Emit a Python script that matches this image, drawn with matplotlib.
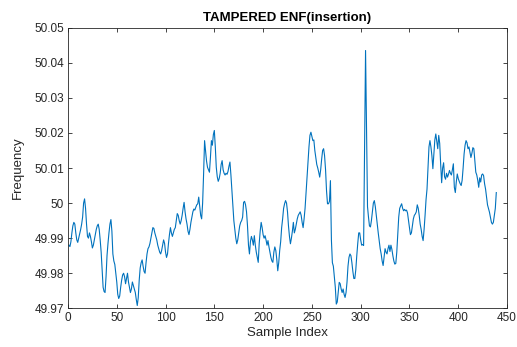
import numpy as np
import matplotlib
matplotlib.use("Agg")
import matplotlib.pyplot as plt

# frequency readings, one per sample (sample index starts at 1)
freq = [
    49.9880, 49.9876, 49.9890, 49.9915, 49.9935, 49.9945, 49.9940, 49.9915, 49.9895, 49.9888,
    49.9900, 49.9912, 49.9925, 49.9940, 49.9960, 50.0000, 50.0012, 49.9985, 49.9940, 49.9905,
    49.9900, 49.9915, 49.9905, 49.9890, 49.9872, 49.9880, 49.9895, 49.9910, 49.9925, 49.9935,
    49.9940, 49.9925, 49.9895, 49.9860, 49.9810, 49.9760, 49.9748, 49.9745, 49.9790, 49.9850,
    49.9885, 49.9915, 49.9940, 49.9953, 49.9920, 49.9855, 49.9835, 49.9825, 49.9800, 49.9775,
    49.9740, 49.9728, 49.9735, 49.9760, 49.9780, 49.9795, 49.9800, 49.9790, 49.9770, 49.9785,
    49.9800, 49.9775, 49.9760, 49.9745, 49.9755, 49.9775, 49.9765, 49.9755, 49.9745, 49.9725,
    49.9708, 49.9730, 49.9780, 49.9815, 49.9830, 49.9838, 49.9820, 49.9805, 49.9800, 49.9830,
    49.9855, 49.9870, 49.9875, 49.9885, 49.9900, 49.9915, 49.9930, 49.9928, 49.9915, 49.9905,
    49.9895, 49.9880, 49.9870, 49.9860, 49.9855, 49.9865, 49.9880, 49.9895, 49.9885, 49.9860,
    49.9845, 49.9855, 49.9885, 49.9910, 49.9930, 49.9915, 49.9905, 49.9915, 49.9925, 49.9930,
    49.9950, 49.9970, 49.9965, 49.9950, 49.9940, 49.9950, 49.9965, 49.9985, 50.0002, 49.9975,
    49.9955, 49.9940, 49.9920, 49.9910, 49.9925, 49.9945, 49.9960, 49.9975, 49.9983, 49.9980,
    49.9988, 49.9995, 49.9998, 50.0017, 49.9990, 49.9965, 49.9955, 50.0000, 50.0083, 50.0178,
    50.0150, 50.0120, 50.0102, 50.0095, 50.0088, 50.0130, 50.0178, 50.0165, 50.0195, 50.0207,
    50.0160, 50.0102, 50.0075, 50.0062, 50.0070, 50.0085, 50.0110, 50.0121, 50.0095, 50.0085,
    50.0080, 50.0085, 50.0082, 50.0090, 50.0105, 50.0117, 50.0080, 50.0036, 49.9990, 49.9950,
    49.9925, 49.9900, 49.9884, 49.9895, 49.9915, 49.9935, 49.9945, 49.9950, 49.9960, 50.0002,
    50.0005, 49.9995, 49.9975, 49.9935, 49.9880, 49.9855, 49.9890, 49.9905, 49.9895, 49.9880,
    49.9907, 49.9880, 49.9860, 49.9845, 49.9831, 49.9885, 49.9920, 49.9945, 49.9930, 49.9910,
    49.9900, 49.9907, 49.9895, 49.9880, 49.9893, 49.9875, 49.9860, 49.9845, 49.9835, 49.9831,
    49.9860, 49.9875, 49.9865, 49.9840, 49.9807, 49.9830, 49.9865, 49.9890, 49.9930, 49.9955,
    49.9985, 49.9998, 50.0007, 50.0000, 49.9975, 49.9935, 49.9905, 49.9884, 49.9900, 49.9920,
    49.9945, 49.9915, 49.9925, 49.9940, 49.9955, 49.9965, 49.9970, 49.9975, 49.9965, 49.9945,
    49.9930, 49.9955, 49.9985, 50.0030, 50.0074, 50.0120, 50.0160, 50.0193, 50.0202, 50.0190,
    50.0178, 50.0180, 50.0150, 50.0130, 50.0110, 50.0100, 50.0088, 50.0074, 50.0095, 50.0125,
    50.0150, 50.0155, 50.0135, 50.0095, 50.0035, 49.9998, 49.9998, 50.0005, 50.0064, 49.9895,
    49.9830, 49.9820, 49.9790, 49.9760, 49.9712, 49.9718, 49.9745, 49.9774, 49.9770, 49.9755,
    49.9745, 49.9755, 49.9740, 49.9731, 49.9745, 49.9775, 49.9820, 49.9845, 49.9855, 49.9850,
    49.9830, 49.9805, 49.9785, 49.9785, 49.9810, 49.9850, 49.9885, 49.9915, 49.9915, 49.9895,
    49.9880, 49.9882, 49.9879, 50.0158, 50.0435, 50.0216, 49.9990, 49.9960, 49.9935, 49.9932,
    49.9950, 49.9975, 50.0000, 50.0007, 49.9990, 49.9965, 49.9940, 49.9915, 49.9893, 49.9870,
    49.9855, 49.9835, 49.9822, 49.9845, 49.9870, 49.9860, 49.9855, 49.9870, 49.9880, 49.9862,
    49.9880, 49.9868, 49.9850, 49.9835, 49.9826, 49.9828, 49.9860, 49.9910, 49.9960, 49.9985,
    49.9992, 49.9998, 49.9985, 49.9978, 49.9982, 49.9978, 49.9980, 49.9972, 49.9950, 49.9930,
    49.9910, 49.9915, 49.9935, 49.9955, 49.9965, 49.9969, 49.9975, 49.9995, 49.9985, 49.9965,
    49.9940, 49.9925, 49.9905, 49.9893, 49.9925, 49.9965, 50.0010, 50.0040, 50.0100, 50.0160,
    50.0178, 50.0160, 50.0135, 50.0098, 50.0140, 50.0180, 50.0197, 50.0175, 50.0155, 50.0193,
    50.0170, 50.0110, 50.0058, 50.0100, 50.0115, 50.0075, 50.0068, 50.0085, 50.0074, 50.0082,
    50.0093, 50.0085, 50.0080, 50.0095, 50.0112, 50.0045, 50.0030, 50.0060, 50.0083, 50.0070,
    50.0062, 50.0055, 50.0050, 50.0065, 50.0100, 50.0140, 50.0165, 50.0178, 50.0172, 50.0155,
    50.0160, 50.0145, 50.0130, 50.0142, 50.0158, 50.0155, 50.0120, 50.0088, 50.0080, 50.0065,
    50.0045, 50.0072, 50.0060, 50.0080, 50.0083, 50.0078, 50.0055, 50.0040, 50.0017, 49.9995,
    49.9985, 49.9974, 49.9960, 49.9945, 49.9940, 49.9945, 49.9965, 49.9985, 50.0030,
]
sample_idx = np.arange(1, len(freq) + 1)

x_ticks = [0, 50, 100, 150, 200, 250, 300, 350, 400, 450]
y_ticks = [49.97, 49.98, 49.99, 50.0, 50.01, 50.02, 50.03, 50.04, 50.05]
y_tick_labels = ["49.97", "49.98", "49.99", "50", "50.01", "50.02", "50.03", "50.04", "50.05"]

plt.rcParams["font.family"] = ["Liberation Sans", "DejaVu Sans"]
axis_col = "#262626"

fig = plt.figure(figsize=(5.17, 3.47), dpi=100)
ax = fig.add_axes([0.1315, 0.1115, 0.8492, 0.8087])
ax.plot(sample_idx, freq, color="#0072BD", lw=0.8)

ax.set_xlim(0, 450)
ax.set_ylim(49.97, 50.05)
ax.set_xticks(x_ticks)
ax.set_yticks(y_ticks)
ax.set_yticklabels(y_tick_labels)
ax.tick_params(direction="in", length=3, width=0.6, colors=axis_col,
               labelsize=8.5, top=True, right=True, pad=3)
for s in ax.spines.values():
    s.set_color(axis_col)
    s.set_linewidth(0.6)

ax.set_title("TAMPERED ENF(insertion)", fontsize=9.5, fontweight="bold", pad=5)
ax.set_xlabel("Sample Index", fontsize=9.5, color=axis_col, labelpad=2)
ax.set_ylabel("Frequency", fontsize=9.5, color=axis_col, labelpad=7)

fig.savefig("out.png", dpi=100)
